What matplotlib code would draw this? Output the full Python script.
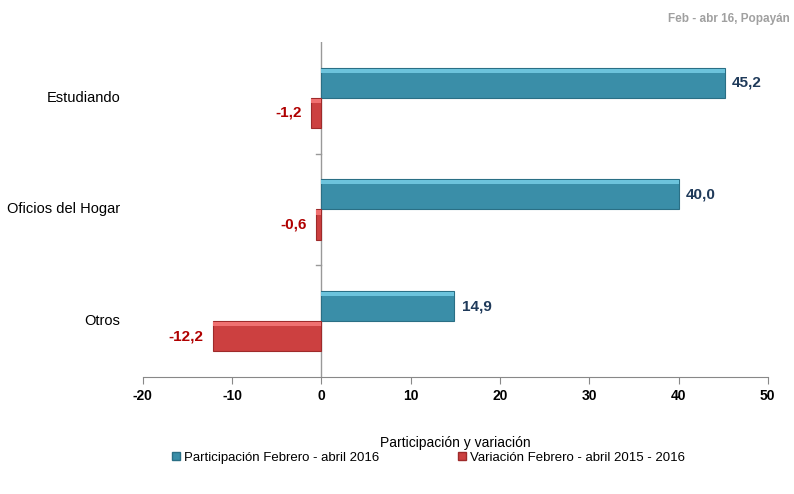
import numpy as np
import matplotlib.pyplot as plt
from matplotlib.patches import Patch

# data
categorias = ['Otros', 'Oficios del Hogar', 'Estudiando']
participacion = [14.9, 40.0, 45.2]
variacion = [-12.2, -0.6, -1.2]
etiquetas_x = ['-20', '-10', '0', '10', '20', '30', '40', '50']
serie_azul = 'Participación Febrero - abril 2016'
serie_roja = 'Variación Febrero - abril 2015 - 2016'

plt.rcParams['font.family'] = ['Liberation Sans', 'DejaVu Sans']

azul = '#3a8ea8'
rojo = '#cc4040'

fig = plt.figure(figsize=(7.94, 4.94), dpi=100)
ax = fig.add_axes([0.180, 0.237, 0.787, 0.678])

y = np.arange(len(categorias))
h = 0.27
ax.barh(y + h / 2, participacion, height=h, color=azul, edgecolor='#2a6f85', linewidth=0.8)
ax.barh(y - h / 2, variacion, height=h, color=rojo, edgecolor='#9e2a2a', linewidth=0.8)

# lighter strip on the top of each bar (bevel look)
ax.barh(y + h / 2 + h * 0.4, participacion, height=h * 0.14, color='#6cc3dc', linewidth=0)
ax.barh(y - h / 2 + h * 0.4, variacion, height=h * 0.14, color='#f07070', linewidth=0)

for yi, v in zip(y, participacion):
    ax.text(v + 0.8, yi + h / 2, f'{v:.1f}'.replace('.', ','), va='center', ha='left',
            fontsize=11, fontweight='bold', color='#1f3a5a')
for yi, v in zip(y, variacion):
    ax.text(v - 1.0, yi - h / 2, f'{v:.1f}'.replace('.', ','), va='center', ha='right',
            fontsize=11, fontweight='bold', color='#b00000')

ax.set_xlim(-20, 50)
ax.set_ylim(-0.5, 2.5)
ax.set_xticks(np.arange(-20, 51, 10))
ax.set_xticklabels(etiquetas_x, fontsize=10, fontweight='bold')
ax.set_yticks([])

for s in ['top', 'right', 'left']:
    ax.spines[s].set_visible(False)
ax.spines['bottom'].set_color('#888888')
ax.tick_params(axis='x', colors='#888888', length=5, labelcolor='black')

# vertical axis at zero with category separators
ax.axvline(0, color='#999999', linewidth=1, zorder=0)
for b in [0.5, 1.5]:
    ax.plot([-0.6, 0], [b, b], color='#999999', linewidth=1)

for yi, c in zip(y, categorias):
    ax.text(-22.5, yi, c, ha='right', va='center', fontsize=10.5, clip_on=False)

ax.set_xlabel('Participación y variación', fontsize=10, labelpad=24)

fig.text(0.995, 0.962, 'Feb - abr 16, Popayán', ha='right', va='center',
         fontsize=8.5, fontweight='bold', color='#a0a0a0')

handles = [Patch(facecolor=azul, edgecolor='#2a6f85'), Patch(facecolor=rojo, edgecolor='#9e2a2a')]
fig.legend(handles, [serie_azul, serie_roja], loc='center', bbox_to_anchor=(0.54, 0.073),
           ncol=2, frameon=False, fontsize=9.5, handlelength=0.6, handleheight=0.6,
           columnspacing=6, handletextpad=0.3)

fig.savefig('out.png', dpi=100)
